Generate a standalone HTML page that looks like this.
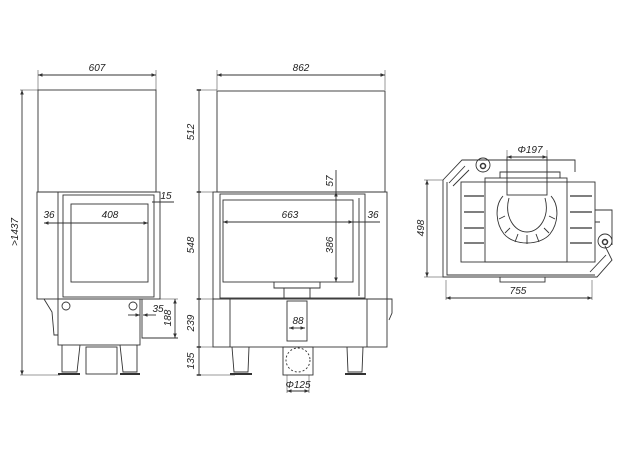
<!DOCTYPE html>
<html><head><meta charset="utf-8"><style>
html,body{margin:0;padding:0;background:#fff;width:624px;height:460px;overflow:hidden}
svg{display:block}
text{font-family:"Liberation Sans",sans-serif;font-size:10px;font-style:italic;fill:#222}
</style></head><body>
<svg width="624" height="460" viewBox="0 0 624 460" xmlns="http://www.w3.org/2000/svg">
<defs><marker id="a" markerWidth="6" markerHeight="6" refX="5" refY="3" orient="auto-start-reverse"><path d="M0,1 L5,3 L0,5z" fill="#333"/></marker></defs>
<g fill="none" stroke="#333" stroke-width="0.9">
<!-- LEFT VIEW -->
<line x1="38" y1="75" x2="156" y2="75" marker-start="url(#a)" marker-end="url(#a)"/>
<line x1="38" y1="70" x2="38" y2="90" stroke-width="0.5"/><line x1="156" y1="70" x2="156" y2="90" stroke-width="0.5"/>
<rect x="38" y="90" width="118" height="102"/>
<rect x="37" y="192" width="123" height="107"/>
<line x1="58" y1="192" x2="58" y2="299"/>
<rect x="63" y="195" width="91" height="102"/>
<rect x="71" y="204" width="77" height="78"/>
<rect x="58" y="299" width="82" height="46"/>
<circle cx="66" cy="306" r="4"/><circle cx="133" cy="306" r="4"/>
<path d="M44,299 L52,312 L54,335 L58,335"/>
<path d="M62,345 L62,372 L77,372 L80,345"/><path d="M120,345 L123,372 L137,372 L137,345"/>
<rect x="86" y="347" width="31" height="27"/>
<line x1="58" y1="374" x2="80" y2="374" stroke-width="2"/><line x1="120" y1="374" x2="140" y2="374" stroke-width="2"/>
<path d="M142,299 L142,338 L178,338"/><line x1="140" y1="299" x2="178" y2="299" stroke-width="0.5"/>
<line x1="175" y1="299" x2="175" y2="338" marker-start="url(#a)" marker-end="url(#a)"/>
<line x1="128" y1="315" x2="140" y2="315" marker-end="url(#a)"/><line x1="156" y1="315" x2="143" y2="315" marker-end="url(#a)"/>
<line x1="22" y1="90" x2="22" y2="375" marker-start="url(#a)" marker-end="url(#a)"/>
<line x1="20" y1="90" x2="38" y2="90" stroke-width="0.5"/><line x1="20" y1="375" x2="60" y2="375" stroke-width="0.5"/>
<line x1="44" y1="223" x2="148" y2="223" marker-start="url(#a)" marker-end="url(#a)"/>
<line x1="152" y1="202" x2="174" y2="202"/>
<line x1="199" y1="90" x2="199" y2="375"/>
<g stroke-width="0.5"><line x1="196" y1="90" x2="217" y2="90"/><line x1="196" y1="192" x2="213" y2="192"/><line x1="196" y1="299" x2="213" y2="299"/><line x1="196" y1="347" x2="213" y2="347"/><line x1="196" y1="375" x2="235" y2="375"/></g>
<g stroke-width="1.5"><line x1="197" y1="90" x2="201" y2="90"/><line x1="197" y1="192" x2="201" y2="192"/><line x1="197" y1="299" x2="201" y2="299"/><line x1="197" y1="347" x2="201" y2="347"/><line x1="197" y1="375" x2="201" y2="375"/></g>
<!-- MIDDLE VIEW -->
<line x1="217" y1="75" x2="385" y2="75" marker-start="url(#a)" marker-end="url(#a)"/>
<line x1="217" y1="70" x2="217" y2="90" stroke-width="0.5"/><line x1="385" y1="70" x2="385" y2="90" stroke-width="0.5"/>
<rect x="217" y="91" width="168" height="101"/>
<rect x="213" y="192" width="174" height="107"/>
<rect x="220" y="194" width="145" height="104"/>
<rect x="223" y="200" width="130" height="82"/>
<line x1="359" y1="198" x2="359" y2="296"/>
<path d="M274,282 L274,288 L320,288 L320,282"/><path d="M284,288 L284,298 M310,288 L310,298"/>
<rect x="213" y="299" width="174" height="48"/>
<line x1="230" y1="299" x2="230" y2="347"/><line x1="367" y1="299" x2="367" y2="347"/>
<rect x="287" y="301" width="20" height="40"/>
<line x1="289" y1="328" x2="305" y2="328" marker-start="url(#a)" marker-end="url(#a)"/>
<path d="M232,347 L234,372 L248,372 L249,347"/><path d="M347,347 L348,372 L362,372 L363,347"/>
<line x1="230" y1="374" x2="252" y2="374" stroke-width="2"/><line x1="345" y1="374" x2="366" y2="374" stroke-width="2"/>
<rect x="283" y="347" width="30" height="28"/>
<circle cx="298" cy="360" r="12" stroke-dasharray="2,2"/>
<line x1="287" y1="375" x2="287" y2="393" stroke-width="0.5"/><line x1="309" y1="375" x2="309" y2="393" stroke-width="0.5"/>
<line x1="287" y1="391" x2="309" y2="391" marker-start="url(#a)" marker-end="url(#a)"/>
<line x1="223" y1="222" x2="353" y2="222" marker-start="url(#a)" marker-end="url(#a)"/>
<line x1="353" y1="222" x2="380" y2="222"/>
<line x1="336" y1="192" x2="336" y2="282" marker-start="url(#a)" marker-end="url(#a)"/>
<line x1="336" y1="170" x2="336" y2="192"/>
<path d="M387,299 L392,299 L392,313 L389,320"/>
<!-- RIGHT VIEW -->
<path d="M443,180 L462,160 L575,160 L575,172"/>
<path d="M443,180 L443,277 L597,277 L612,260 L605,246"/>
<path d="M447,182 L447,275 L595,275"/>
<rect x="461" y="182" width="134" height="80"/>
<rect x="485" y="178" width="82" height="84"/>
<path d="M500,178 L500,172 L560,172 L560,178"/>
<line x1="449" y1="183" x2="465" y2="166"/><line x1="453" y1="186" x2="469" y2="170"/>
<line x1="590" y1="272" x2="606" y2="255"/>
<circle cx="483" cy="165" r="7"/><circle cx="483" cy="166" r="2.5" stroke-width="1.5"/>
<circle cx="605" cy="241" r="7"/><circle cx="605" cy="242" r="2.5" stroke-width="1.5"/>
<path d="M595,210 L612,210 L612,245 M595,222 L600,222"/>
<rect x="507" y="157" width="40" height="38"/>
<line x1="507" y1="150" x2="507" y2="157" stroke-width="0.5"/><line x1="547" y1="150" x2="547" y2="157" stroke-width="0.5"/>
<line x1="507" y1="157" x2="547" y2="157" marker-start="url(#a)" marker-end="url(#a)"/>
<path d="M503,196 C494,206 496,224 504,234 C514,246 540,246 550,234 C558,224 560,206 551,196"/>
<path d="M509,198 C504,216 514,232 527,232 C540,232 550,216 545,198"/>
<path d="M505,216 L499,219 M549,216 L555,219 M510,228 L505,233 M544,228 L549,233 M518,234 L515,242 M536,234 L539,242 M527,235 L527,244"/>
<g stroke-width="1.2"><line x1="464" y1="196" x2="484" y2="196"/><line x1="464" y1="212" x2="484" y2="212"/><line x1="464" y1="228" x2="484" y2="228"/><line x1="464" y1="243" x2="484" y2="243"/>
<line x1="570" y1="196" x2="592" y2="196"/><line x1="570" y1="212" x2="592" y2="212"/><line x1="570" y1="228" x2="592" y2="228"/><line x1="570" y1="243" x2="592" y2="243"/></g>
<rect x="500" y="277" width="45" height="5"/>
<line x1="427" y1="180" x2="427" y2="277" marker-start="url(#a)" marker-end="url(#a)"/>
<line x1="424" y1="180" x2="443" y2="180" stroke-width="0.5"/><line x1="424" y1="277" x2="443" y2="277" stroke-width="0.5"/>
<line x1="446" y1="280" x2="446" y2="300" stroke-width="0.5"/><line x1="592" y1="280" x2="592" y2="300" stroke-width="0.5"/>
<line x1="446" y1="298" x2="592" y2="298" marker-start="url(#a)" marker-end="url(#a)"/>
</g>
<text x="97" y="71" text-anchor="middle">607</text>
<text x="301" y="71" text-anchor="middle">862</text>
<text transform="translate(18,232) rotate(-90)" text-anchor="middle">&gt;1437</text>
<text x="49" y="218" text-anchor="middle">36</text>
<text x="110" y="218" text-anchor="middle">408</text>
<text x="166" y="199" text-anchor="middle">15</text>
<text x="158" y="312" text-anchor="middle">35</text>
<text transform="translate(171,318) rotate(-90)" text-anchor="middle">188</text>
<text transform="translate(194,132) rotate(-90)" text-anchor="middle">512</text>
<text transform="translate(194,245) rotate(-90)" text-anchor="middle">548</text>
<text transform="translate(194,323) rotate(-90)" text-anchor="middle">239</text>
<text transform="translate(194,361) rotate(-90)" text-anchor="middle">135</text>
<text x="290" y="218" text-anchor="middle">663</text>
<text x="373" y="218" text-anchor="middle">36</text>
<text transform="translate(333,181) rotate(-90)" text-anchor="middle">57</text>
<text transform="translate(333,245) rotate(-90)" text-anchor="middle">386</text>
<text x="298" y="324" text-anchor="middle">88</text>
<text x="298" y="388" text-anchor="middle">Φ125</text>
<text x="530" y="153" text-anchor="middle">Φ197</text>
<text transform="translate(424,228) rotate(-90)" text-anchor="middle">498</text>
<text x="518" y="294" text-anchor="middle">755</text>
</svg>
</body></html>
